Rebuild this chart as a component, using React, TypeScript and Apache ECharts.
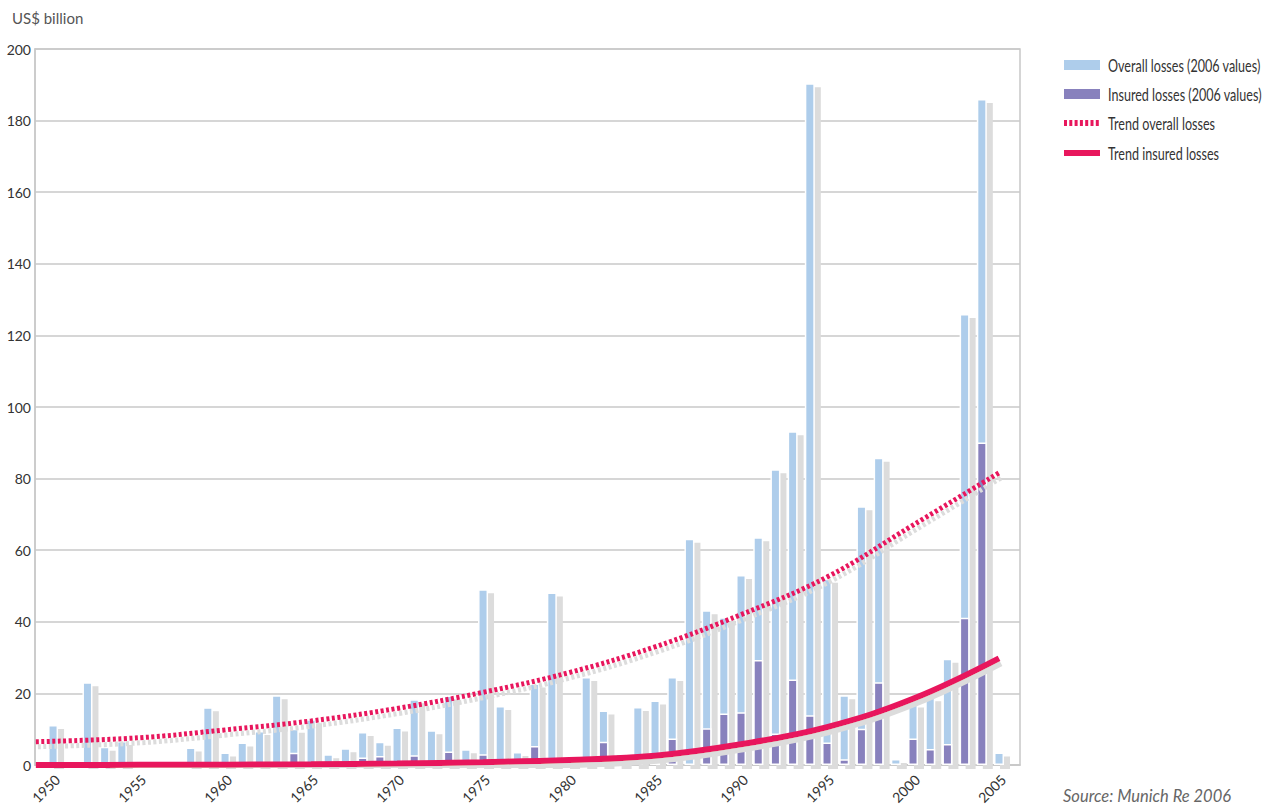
import React, { useEffect, useRef } from "react";
import * as echarts from "echarts";

const years: number[] = [];
for (let y = 1950; y <= 2005; y++) years.push(y);

// Overall losses (2006 values), US$ bn, 1950..2005 (null = no bar)
const overallLosses: (number | null)[] = [
  11.2, null, 23.1, 5.1, 6.7, null, null, null, 4.9, 16.1,
  3.5, 6.3, 9.5, 19.5, 10.1, 12.8, 3.0, 4.7, 9.2, 6.5,
  10.5, 18.4, 9.7, 19.4, 4.4, 49.1, 16.5, 3.6, 22.8, 48.2,
  2.1, 24.6, 15.2, 3.2, 16.2, 18.0, 24.6, 63.2, 43.2, 41.3,
  53.1, 63.6, 82.6, 93.2, 190.4, 52.0, 19.5, 72.3, 85.8, 1.7,
  17.2, 18.9, 29.7, 126.0, 186.0, 3.5,
];

// Insured losses (2006 values), US$ bn, 1950..2005
const insuredLosses: (number | null)[] = [
  null, null, null, null, null, null, null, null, null, null,
  null, null, null, null, 3.4, null, null, null, 2.1, 2.5,
  0.4, 2.7, null, 3.8, null, 3.0, null, null, 5.3, null,
  null, null, 6.5, 1.0, 1.1, 0.8, 7.4, null, 10.3, 14.4,
  14.7, 29.3, 8.8, 23.9, 13.9, 6.3, 1.6, 10.1, 23.1, null,
  7.4, 4.5, 5.9, 41.1, 90.1, null,
];

// Trend curves
const trendYears = [1949, 1955, 1960, 1965, 1970, 1975, 1980, 1985, 1990, 1995, 2000, 2005];
const trendOverall = [6.5, 7.6, 9.8, 12.3, 15.8, 20.3, 25.8, 33.0, 42.0, 52.5, 67.0, 81.6];
const trendInsured = [0, 0.05, 0.1, 0.2, 0.4, 0.8, 1.4, 2.6, 5.8, 10.6, 18.5, 29.8];

const xTickLabels = [1950, 1955, 1960, 1965, 1970, 1975, 1980, 1985, 1990, 1995, 2000, 2005];

const legendNames = [
  "Overall losses (2006 values)",
  "Insured losses (2006 values)",
  "Trend overall losses",
  "Trend insured losses",
];

const FONT = 'Lato, "Open Sans", sans-serif';

const BLUE = "#aecdeb";
const PURPLE = "#8881bd";
const PINK = "#e8175d";
const SHADOW = "#dcdcdc";
const GRID = "#c8c8c8";

export default function App() {
  const ref = useRef<HTMLDivElement>(null);

  useEffect(() => {
    if (!ref.current) return;
    const chart = echarts.init(ref.current, undefined, { renderer: "svg" });

    const overallData = years.map((y, i) => [y, overallLosses[i]]);
    const insuredData = years.map((y, i) => [y, insuredLosses[i]]);

    const legendRowY = [65, 94, 123, 153];
    const legendGraphics: any[] = [
      { type: "rect", shape: { x: 1064, y: legendRowY[0] - 5, width: 36, height: 10 }, style: { fill: BLUE } },
      { type: "rect", shape: { x: 1064, y: legendRowY[1] - 5, width: 36, height: 10 }, style: { fill: PURPLE } },
      {
        type: "line",
        shape: { x1: 1064, y1: legendRowY[2], x2: 1101, y2: legendRowY[2] },
        style: { stroke: PINK, lineWidth: 6, lineDash: [3, 2.3] },
      },
      {
        type: "line",
        shape: { x1: 1064, y1: legendRowY[3], x2: 1100, y2: legendRowY[3] },
        style: { stroke: PINK, lineWidth: 6 },
      },
      ...legendNames.map((name, i) => ({
        type: "text",
        x: 1108,
        y: legendRowY[i],
        scaleX: 0.74,
        style: {
          text: name,
          fontSize: 17,
          fill: "#333",
          fontFamily: FONT,
          textVerticalAlign: "middle",
          verticalAlign: "middle",
        },
      })),
    ];

    const option: any = {
      animation: false,
      backgroundColor: "#fff",
      grid: {
        left: 35,
        right: 254,
        top: 49,
        bottom: 42,
        outerBoundsMode: "none",
        containLabel: false,
        show: true,
        borderColor: GRID,
        borderWidth: 1.5,
        backgroundColor: "transparent",
      },
      xAxis: {
        type: "value",
        min: 1948.95,
        max: 2006.22,
        splitLine: { show: false },
        axisLine: { show: true, lineStyle: { color: GRID, width: 1.5 } },
        axisTick: { show: false },
        axisLabel: {
          customValues: xTickLabels.map((v) => v + 0.25),
          formatter: (v: number) => String(Math.round(v)),
          rotate: 45,
          margin: 12,
          fontSize: 14,
          color: "#333",
          fontFamily: FONT,
        },
      },
      yAxis: {
        type: "value",
        min: 0,
        max: 200,
        interval: 20,
        axisLine: { show: true, lineStyle: { color: GRID, width: 1.5 } },
        axisTick: { show: false },
        splitLine: { show: true, lineStyle: { color: GRID, width: 1.5 } },
        axisLabel: { fontSize: 14, color: "#333", fontFamily: FONT, margin: 4 },
      },
      graphic: [
        {
          type: "text",
          left: 12,
          top: 10,
          style: { text: "US$ billion", fontSize: 15, fill: "#555", fontFamily: FONT },
        },
        {
          type: "text",
          left: 1063,
          top: 787,
          style: {
            text: "Source: Munich Re 2006",
            fontSize: 16.5,
            fontStyle: "italic",
            fill: "#666",
            fontFamily: FONT,
          },
        },
        ...legendGraphics,
      ],
      series: [
        {
          name: legendNames[0],
          type: "bar",
          data: overallData,
          barWidth: 10,
          barGap: "-100%",
          itemStyle: {
            color: BLUE,
            borderColor: "#fff",
            borderWidth: 1.5,
            shadowColor: SHADOW,
            shadowBlur: 0,
            shadowOffsetX: 6,
            shadowOffsetY: 4,
          },
          z: 2,
        },
        {
          name: legendNames[1],
          type: "bar",
          data: insuredData,
          barWidth: 10,
          barGap: "-100%",
          itemStyle: { color: PURPLE, borderColor: "#fff", borderWidth: 1.5 },
          z: 3,
        },
        {
          name: legendNames[2],
          type: "line",
          data: trendYears.map((y, i) => [y, trendOverall[i]]),
          smooth: 0.4,
          symbol: "none",
          itemStyle: { color: PINK },
          lineStyle: {
            color: PINK,
            width: 5,
            type: [3, 2.5],
            cap: "butt",
            shadowColor: SHADOW,
            shadowBlur: 0,
            shadowOffsetX: 2,
            shadowOffsetY: 5,
          },
          z: 4,
        },
        {
          name: legendNames[3],
          type: "line",
          data: trendYears.map((y, i) => [y, trendInsured[i]]),
          smooth: 0.4,
          symbol: "none",
          itemStyle: { color: PINK },
          lineStyle: {
            color: PINK,
            width: 6,
            cap: "butt",
            shadowColor: SHADOW,
            shadowBlur: 0,
            shadowOffsetX: 2,
            shadowOffsetY: 5,
          },
          z: 5,
        },
      ],
    };

    chart.setOption(option);
    return () => chart.dispose();
  }, []);

  return (
    <div
      ref={ref}
      style={{ position: "fixed", left: 0, top: 0, width: 1274, height: 807, background: "#fff" }}
    />
  );
}
